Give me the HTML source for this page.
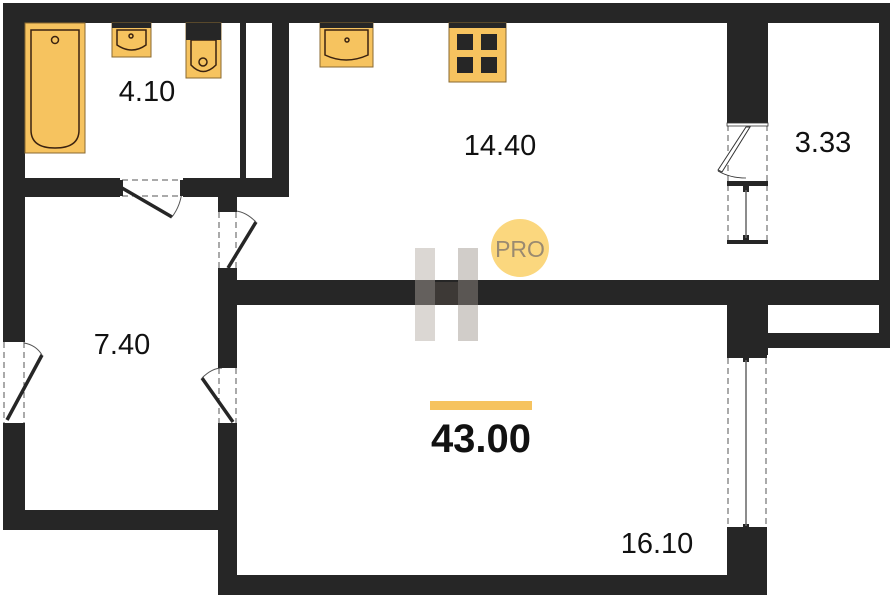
<!DOCTYPE html>
<html><head><meta charset="utf-8"><style>
html,body{margin:0;padding:0;background:#fff;}
svg{display:block}
text{font-family:"Liberation Sans",sans-serif;}
</style></head><body>
<svg width="893" height="600" viewBox="0 0 893 600">
<g fill="#262626">
<rect x="3" y="3" width="887" height="20"/>
<rect x="3" y="3" width="22" height="337"/>
<rect x="3" y="425" width="22" height="105"/>
<rect x="3" y="510" width="234" height="20"/>
<rect x="240" y="22" width="6" height="160"/>
<rect x="272" y="22" width="17" height="175"/>
<rect x="22" y="178" width="98" height="19"/>
<rect x="183" y="178" width="106" height="19"/>
<rect x="218" y="197" width="19" height="12"/>
<rect x="218" y="273" width="19" height="92"/>
<rect x="218" y="425" width="19" height="170"/>
<rect x="218" y="280" width="672" height="25"/>
<rect x="727" y="3" width="41" height="120"/>
<rect x="879" y="3" width="11" height="345"/>
<rect x="727" y="303" width="41" height="52"/>
<rect x="768" y="333" width="122" height="15"/>
<rect x="727" y="530" width="40" height="65"/>
<rect x="218" y="575" width="549" height="20"/>
</g>
<g fill="none" stroke="#555" stroke-dasharray="6,4" stroke-width="1">
<line x1="728" y1="125" x2="728" y2="243"/><line x1="767" y1="125" x2="767" y2="243"/>
<line x1="728" y1="358" x2="728" y2="530"/><line x1="766" y1="358" x2="766" y2="530"/>
<line x1="122" y1="180" x2="182" y2="180"/><line x1="122" y1="196" x2="182" y2="196"/>
<line x1="219" y1="212" x2="219" y2="270"/><line x1="236" y1="212" x2="236" y2="270"/>
<line x1="4" y1="342" x2="4" y2="423"/><line x1="24" y1="342" x2="24" y2="423"/>
<line x1="219" y1="368" x2="219" y2="423"/><line x1="236" y1="368" x2="236" y2="423"/>
</g>
<g fill="#262626">
<rect x="727" y="181" width="41" height="5"/>
<rect x="727" y="240" width="41" height="4"/>
<rect x="743" y="186" width="6" height="6"/><rect x="743" y="235" width="6" height="6"/>
<rect x="727" y="354" width="40" height="4"/>
<rect x="743" y="356" width="6" height="6"/><rect x="743" y="524" width="6" height="6"/>
<rect x="727" y="527" width="40" height="4"/>
</g>
<line x1="746" y1="190" x2="746" y2="238" stroke="#666" stroke-width="1.5"/>
<line x1="746" y1="360" x2="746" y2="526" stroke="#666" stroke-width="1.5"/>
<rect x="727" y="123" width="41" height="3" fill="#fff" stroke="#333" stroke-width="0.8"/>
<polygon points="746,127 750,127 722,172 718,170" fill="#fff" stroke="#333" stroke-width="1"/>
<path d="M718,171 Q730,178 746,178" fill="none" stroke="#333" stroke-width="0.8"/>
<g stroke="#262626" stroke-width="3.5" fill="none">
<line x1="122" y1="188" x2="172" y2="217"/>
<line x1="256" y1="222" x2="228" y2="268"/>
<line x1="7" y1="420" x2="42" y2="355"/>
<line x1="233" y1="422" x2="202" y2="378"/>
</g>
<g stroke="#555" stroke-width="1" fill="none">
<path d="M172,217 Q181,205 182,190"/>
<path d="M256,222 Q246,212 236,211"/>
<path d="M42,355 Q36,345 24,343"/>
<path d="M202,378 Q212,368 222,368"/>
</g>
<g fill="#262626">
<rect x="118" y="180" width="5" height="16"/><rect x="180" y="180" width="5" height="16"/>
<rect x="218" y="207" width="19" height="5"/><rect x="218" y="268" width="19" height="5"/>
<rect x="3" y="337" width="22" height="5"/><rect x="3" y="423" width="22" height="5"/>
<rect x="218" y="363" width="19" height="5"/><rect x="218" y="423" width="19" height="5"/>
</g>
<g stroke="#8a6a30" stroke-width="1">
<rect x="25" y="23" width="60" height="130" fill="#f6c35f"/>
<rect x="112" y="23" width="39" height="34" fill="#f6c35f"/>
<rect x="186" y="23" width="35" height="55" fill="#f6c35f"/>
<rect x="320" y="23" width="53" height="44" fill="#f6c35f"/>
<rect x="449" y="23" width="57" height="59" fill="#f6c35f"/>
</g>
<g fill="none" stroke="#3a2210" stroke-width="1.5">
<path d="M31,30 H79 V130 Q79,148 55,148 Q31,148 31,130 Z"/>
<circle cx="55" cy="40" r="3.5"/>
<path d="M117,30 H146 V45 Q132,55 117,45 Z"/>
<circle cx="131" cy="36" r="2"/>
<path d="M191,40 H216 V65 Q203,78 191,65 Z"/>
<circle cx="203" cy="62" r="4"/>
<path d="M325,30 H368 V55 Q346,65 325,55 Z"/>
<circle cx="347" cy="40" r="2"/>
</g>
<rect x="112" y="23" width="39" height="5" fill="#262626"/>
<rect x="186" y="23" width="35" height="17" fill="#262626"/>
<rect x="320" y="23" width="53" height="5" fill="#262626"/>
<rect x="449" y="23" width="57" height="5" fill="#262626"/>
<g fill="#262626">
<rect x="457" y="34" width="16" height="16"/><rect x="481" y="34" width="16" height="16"/>
<rect x="457" y="57" width="16" height="16"/><rect x="481" y="57" width="16" height="16"/>
</g>
<g opacity="0.45">
<rect x="415" y="248" width="20" height="93" fill="#b0a8a0"/>
<rect x="458" y="248" width="20" height="93" fill="#9a928a"/>
<polygon points="435,282 458,282 458,305 435,305" fill="#5a524a"/>
</g>
<circle cx="520" cy="248" r="29" fill="#fbd77e"/>
<text x="520" y="257" font-size="23" fill="#9a8a70" text-anchor="middle">PRO</text>
<g fill="#111">
<text x="147" y="101" font-size="29" text-anchor="middle">4.10</text>
<text x="500" y="155" font-size="29" text-anchor="middle">14.40</text>
<text x="823" y="152" font-size="29" text-anchor="middle">3.33</text>
<text x="122" y="354" font-size="29" text-anchor="middle">7.40</text>
<text x="657" y="553" font-size="29" text-anchor="middle">16.10</text>
<text x="481" y="452" font-size="40" font-weight="bold" text-anchor="middle">43.00</text>
</g>
<rect x="430" y="401" width="102" height="9" fill="#f6c35f"/>
</svg>
</body></html>
